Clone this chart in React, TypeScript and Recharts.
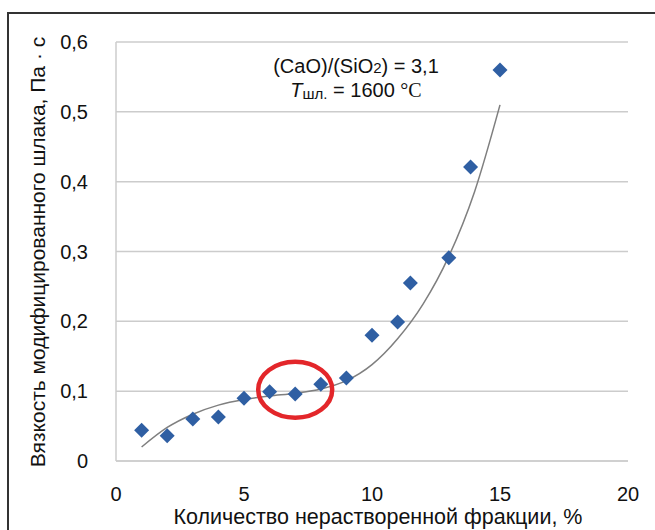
import React from "react";
import {
  CartesianGrid,
  ComposedChart,
  Line,
  ReferenceDot,
  Scatter,
  XAxis,
  YAxis,
} from "recharts";

// measured points: undissolved fraction (%) vs viscosity (Pa·s)
const fractionPct = [1, 2, 3, 4, 5, 6, 7, 8, 9, 10, 11, 11.5, 13, 13.85, 15];
const viscosity = [
  0.044, 0.036, 0.06, 0.063, 0.09, 0.099, 0.096, 0.11, 0.119, 0.18, 0.199, 0.255,
  0.291, 0.421, 0.56,
];

// trend line
const trendX = [1, 2, 3, 4, 5, 6, 7, 8, 9, 10, 11, 12, 13, 14, 15];
const trendY = [
  0.02, 0.048, 0.067, 0.08, 0.088, 0.093, 0.097, 0.103, 0.115, 0.138, 0.175,
  0.225, 0.293, 0.385, 0.51,
];

const xTicks = [0, 5, 10, 15, 20];
const yTicks = [0, 0.1, 0.2, 0.3, 0.4, 0.5, 0.6];

const points = fractionPct.map((x, i) => ({ x, y: viscosity[i] }));
const trend = trendX.map((x, i) => ({ x, y: trendY[i] }));

const FONT = "'Liberation Sans', Arial, sans-serif";
const TICK = { fill: "#111", fontSize: 20, fontFamily: FONT };

const Diamond = (props: any) => {
  const { cx, cy } = props;
  const r = 7.5;
  return (
    <polygon
      points={`${cx},${cy - r} ${cx + r},${cy} ${cx},${cy + r} ${cx - r},${cy}`}
      fill="#2f5fa3"
    />
  );
};

export default function App() {
  return (
    <div
      style={{
        position: "absolute",
        left: 0,
        top: 0,
        width: 655,
        height: 530,
        background: "#fff",
        fontFamily: FONT,
        overflow: "hidden",
      }}
    >
      <div
        style={{
          position: "absolute",
          left: 7,
          top: 12,
          width: 660,
          height: 530,
          borderLeft: "2px solid #333",
          borderTop: "2px solid #333",
        }}
      />
      <ComposedChart
        width={655}
        height={530}
        margin={{ top: 42, right: 27, bottom: 0, left: 0 }}
        style={{ position: "absolute", left: 0, top: 0 }}
      >
        <CartesianGrid
          horizontal
          vertical={false}
          stroke="#cccccc"
          strokeWidth={1.5}
        />
        <XAxis
          type="number"
          dataKey="x"
          domain={[0, 20]}
          ticks={xTicks}
          tick={TICK}
          tickLine={false}
          axisLine={{ stroke: "#cccccc", strokeWidth: 1.5 }}
          tickMargin={20}
          height={69}
          allowDataOverflow
        />
        <YAxis
          type="number"
          dataKey="y"
          domain={[0, 0.6]}
          ticks={yTicks}
          tick={TICK}
          tickLine={false}
          axisLine={{ stroke: "#cccccc", strokeWidth: 1.5 }}
          tickFormatter={(v: number) => String(v).replace(".", ",")}
          tickMargin={22}
          width={116}
        />
        <Line
          data={trend}
          dataKey="y"
          type="monotone"
          stroke="#7f7f7f"
          strokeWidth={1.5}
          dot={false}
          activeDot={false}
          isAnimationActive={false}
        />
        <Scatter
          data={points}
          dataKey="y"
          shape={Diamond}
          isAnimationActive={false}
        />
        <ReferenceDot
          x={7}
          y={0.102}
          shape={(p: any) => (
            <ellipse
              cx={p.cx}
              cy={p.cy}
              rx={37}
              ry={28}
              fill="none"
              stroke="#e3262a"
              strokeWidth={4.5}
            />
          )}
        />
      </ComposedChart>
      <div
        style={{
          position: "absolute",
          left: 246,
          top: 55,
          width: 220,
          textAlign: "center",
          fontSize: 20,
          lineHeight: "23px",
          color: "#111",
        }}
      >
        <div>
          (CaO)/(SiO<span style={{ fontSize: 15 }}>2</span>) = 3,1
        </div>
        <div>
          <i>T</i>
          <span style={{ fontSize: 15, position: "relative", top: 2 }}>шл.</span>{" "}
          = 1600{" "}
          <span style={{ fontFamily: "'Liberation Serif', 'Times New Roman', serif" }}>
            °C
          </span>
        </div>
      </div>
      <div
        style={{
          position: "absolute",
          left: 378 - 250,
          top: 505,
          width: 500,
          textAlign: "center",
          fontSize: 21.5,
          color: "#111",
          whiteSpace: "nowrap",
        }}
      >
        Количество нерастворенной фракции, %
      </div>
      <div
        style={{
          position: "absolute",
          left: 38 - 250,
          top: 252 - 12,
          width: 500,
          textAlign: "center",
          fontSize: 21,
          lineHeight: "24px",
          color: "#111",
          whiteSpace: "nowrap",
          transform: "rotate(-90deg)",
        }}
      >
        Вязкость модифицированного шлака, Па · с
      </div>
    </div>
  );
}
